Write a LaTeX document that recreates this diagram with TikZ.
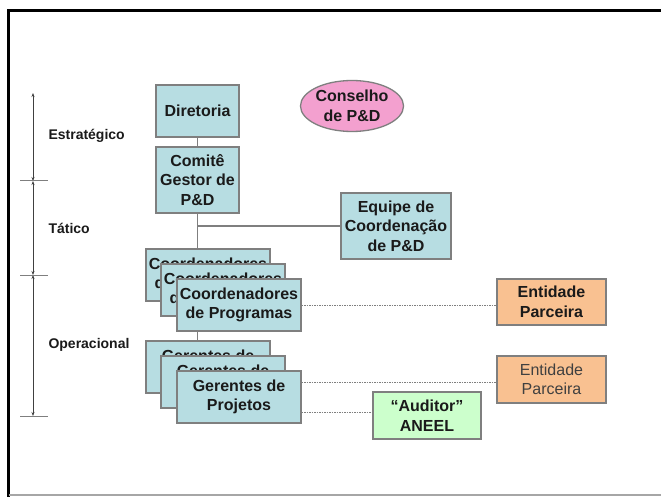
\documentclass[tikz,border=0pt]{standalone}
\usepackage{fontspec}
\setmainfont{Liberation Sans}
\usetikzlibrary{shapes.geometric,arrows.meta}
\definecolor{boxblue}{HTML}{B7DDE2}
\definecolor{boxorange}{HTML}{F9C191}
\definecolor{boxgreen}{HTML}{CCFFCC}
\definecolor{boxpink}{HTML}{F3A0CF}
\definecolor{edgegray}{HTML}{7F7F7F}
\definecolor{txt}{HTML}{1A1A1A}
\tikzset{
  base/.style={draw=edgegray, line width=1.3pt, align=center, text=txt, inner sep=0pt,
    font=\fontsize{16}{19.5}\selectfont\bfseries},
  bluebox/.style={base, fill=boxblue},
  orgbox/.style={base, fill=boxorange, minimum width=109pt, minimum height=46pt},
  grnbox/.style={base, fill=boxgreen, minimum width=108pt, minimum height=47pt},
  stackbox/.style={bluebox, minimum width=124pt, minimum height=52pt},
  conn/.style={draw=edgegray, line width=1.2pt},
  dotconn/.style={draw=edgegray, line width=1pt, dash pattern=on 1.5pt off 1pt},
  axis/.style={draw=black!75, line width=0.8pt, {Stealth[length=4pt,width=3pt]}-{Stealth[length=4pt,width=3pt]}},
  tick/.style={draw=edgegray, line width=1pt},
  level/.style={anchor=west, text=txt, font=\fontsize{14}{16}\selectfont\bfseries}
}
\begin{document}
\begin{tikzpicture}[x=1pt,y=-1pt]
\useasboundingbox (0,0) rectangle (661,497);
\fill[white] (0,0) rectangle (661,497);
% frame
\draw[black, line width=3pt] (8.5,497) -- (8.5,10.5) -- (661,10.5);
\draw[gray!70, line width=1.2pt] (8.5,495) -- (661,495);
% axis
\coordinate (a0) at (33,93);
\coordinate (a1) at (33,181);
\coordinate (a2) at (33,275);
\coordinate (a3) at (33,416);
\draw[axis] (a0) -- (a1);
\draw[axis] (a1) -- (a2);
\draw[axis] (a2) -- (a3);
\draw[tick] ([xshift=-13pt]a1) -- ([xshift=15pt]a1);
\draw[tick] ([xshift=-13pt]a2) -- ([xshift=15pt]a2);
\draw[tick] ([xshift=-13pt]a3) -- ([xshift=15pt]a3);
\node[level] (lest) at (45,136) {Estratégico};
\node[level] (ltat) at (45,228) {Tático};
\node[level] (lope) at (45,345) {Operacional};
% top nodes
\node[bluebox, minimum width=83pt, minimum height=52pt] (dir) at (197.5,111) {Diretoria};
\node[bluebox, minimum width=83pt, minimum height=66pt] (com) at (197.5,180) {Comitê\\Gestor de\\P\&D};
\node[bluebox, minimum width=110pt, minimum height=66pt] (equ) at (396,226) {Equipe de\\Coordenação\\de P\&D};
\node[base, ellipse, fill=boxpink, minimum width=92pt, minimum height=51pt] (con) at (352,106) {Conselho\\de P\&D};
% connectors (drawn before stacks)
\draw[conn] (dir.south) -- (com.north);
\draw[conn] (com.south) -- (com.south |- 0,249) coordinate (cpTop);
\draw[conn] (com.south |- equ.west) -- (equ.west);
% coordenadores stack
\node[stackbox] (cp1) at (208,275) {Coordenadores\\de Programas};
\node[stackbox] (cp2) at (223,290) {Coordenadores\\de Programas};
\node[stackbox] (cp3) at (239,305) {Coordenadores\\de Programas};
% gerentes stack
\coordinate (gtop) at (197.5,341);
\draw[conn] (com.south |- cp3.south) -- (gtop);
\node[stackbox] (ge1) at (208,367) {Gerentes de\\Projetos};
\node[stackbox] (ge2) at (223,382) {Gerentes de\\Projetos};
\node[stackbox] (ge3) at (239,397) {Gerentes de\\Projetos};
% partners
\node[orgbox] (ent1) at (551.5,302) {Entidade\\Parceira};
\node[orgbox, font=\fontsize{16}{19.5}\selectfont, text=black!75, minimum height=47pt] (ent2) at (551.5,379.5) {Entidade\\Parceira};
\node[grnbox] (aud) at (427,415.5) {“Auditor”\\ANEEL};
% dotted links
\draw[dotconn] (cp3.east) -- (cp3.east -| ent1.west);
\draw[dotconn] ([yshift=15pt]ge3.east) coordinate (g1) -- (g1 -| ent2.west);
\draw[dotconn] ([yshift=-15pt]ge3.east) coordinate (g2) -- (g2 -| aud.west);
\end{tikzpicture}
\end{document}
